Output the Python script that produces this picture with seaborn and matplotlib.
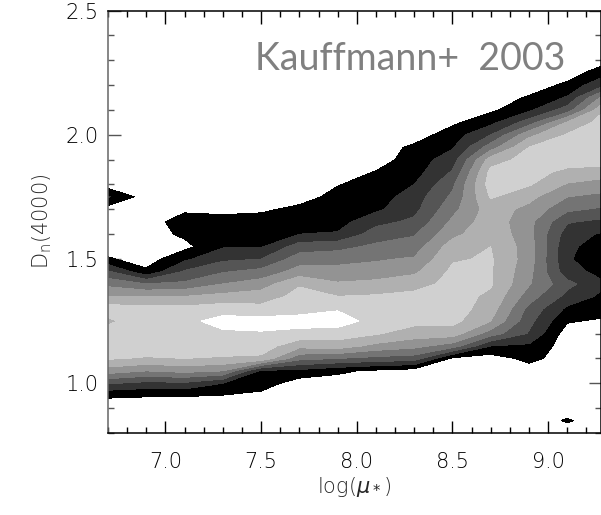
import matplotlib
matplotlib.use("Agg")
import matplotlib.pyplot as plt
from matplotlib.ticker import MultipleLocator
import seaborn as sns

# grid nodes
log_mu = [6.7, 6.9, 7.1, 7.3, 7.5, 7.7, 7.9, 8.1, 8.3, 8.5, 8.7, 8.9, 9.1, 9.3]
dn4000 = [0.80, 0.85, 0.90, 0.95, 1.00, 1.05, 1.10, 1.15, 1.20, 1.25, 1.30,
          1.35, 1.40, 1.45, 1.50, 1.55, 1.60, 1.65, 1.70, 1.75, 1.80, 1.85,
          1.90, 1.95, 2.00, 2.05, 2.10, 2.15, 2.20, 2.25, 2.30, 2.35]

# contour level at each node (1 = outer black contour, 8 = inner white core)
density = [
    [0,    0,    0,    0,    0,   0,   0,    0,    0,   0,   0,   0,   0,   0],
    [0,    0,    0,    0,    0,   0,   0,    0,    0,   0,   0,   0,   0.6, 0],
    [0,    0,    0,    0,    0,   0,   0,    0,    0,   0,   0,   0,   0,   0],
    [0.62, 0.55, 0.55, 0.45, 0.2, 0,   0,    0,    0,   0,   0,   0,   0,   0],
    [2.6,  2.2,  2.3,  1.5,  1.0, 0,   0,    0,    0,   0,   0,   0,   0,   0],
    [5.0,  4.5,  4.8,  4.5,  1.3, 1.2, 0.7,  0.3,  0,   0,   0,   0,   0,   0],
    [6.6,  6.4,  6.5,  6.4,  6.3, 3.8, 3.5,  3.2,  3.0, 0.3, 0,   0.8, 0,   0],
    [7.0,  7.1,  7.0,  7.0,  7.0, 5.8, 6.0,  5.2,  4.8, 4.0, 1.5, 1.3, 0,   0],
    [7.0,  7.2,  7.3,  7.3,  7.4, 7.2, 7.0,  6.6,  6.0, 6.0, 4.0, 2.4, 0,   0],
    [6.3,  7.1,  7.2,  7.9,  7.9, 7.9, 8.0,  7.1,  6.8, 6.8, 5.5, 2.8, 0.6, 0.3],
    [7.0,  6.8,  6.8,  7.0,  6.8, 7.1, 7.4,  7.1,  7.0, 7.0, 6.0, 3.2, 1.3, 1.0],
    [5.5,  5.5,  5.5,  5.8,  6.0, 6.8, 6.5,  6.6,  6.8, 6.9, 6.3, 4.0, 2.2, 1.2],
    [4.2,  3.5,  3.7,  4.5,  5.0, 6.4, 5.6,  5.8,  6.1, 6.8, 6.6, 4.6, 2.8, 1.6],
    [2.6,  0.7,  2.6,  3.4,  3.8, 4.9, 4.9,  4.9,  5.3, 6.7, 6.6, 4.8, 1.9, 1.1],
    [0.62, 0,    1.3,  2.3,  2.5, 4.0, 4.1,  4.4,  4.6, 6.4, 6.6, 5.0, 1.6, 0.9],
    [0,    0,    0.2,  1.4,  1.4, 3.0, 3.2,  3.7,  4.0, 6.0, 6.5, 5.0, 1.7, 1.0],
    [0,    0,    0.7,  1.1,  1.0, 1.5, 1.6,  3.0,  3.4, 5.2, 6.3, 4.8, 2.0, 1.3],
    [0,    0,    1.0,  0.9,  1.0, 1.0, 1.1,  2.2,  2.7, 4.7, 6.1, 4.8, 2.6, 2.2],
    [0,    0,    0.3,  0.2,  0.3, 0.8, 1.0,  1.3,  2.2, 4.2, 6.0, 5.2, 3.7, 3.3],
    [1.6,  0,    0,    0,    0,   0,   0.9,  1.0,  2.0, 3.7, 6.6, 5.8, 4.5, 4.2],
    [0,    0,    0,    0,    0,   0,   0.44, 1.0,  1.5, 3.3, 7.0, 6.6, 5.4, 5.0],
    [0,    0,    0,    0,    0,   0,   0,    0.55, 1.1, 2.6, 6.8, 6.8, 6.3, 6.0],
    [0,    0,    0,    0,    0,   0,   0,    0,    1.0, 2.0, 6.0, 6.9, 6.9, 7.0],
    [0,    0,    0,    0,    0,   0,   0,    0,    0.7, 1.4, 4.0, 6.5, 7.0, 7.3],
    [0,    0,    0,    0,    0,   0,   0,    0,    0,   1.0, 2.5, 5.2, 6.6, 7.2],
    [0,    0,    0,    0,    0,   0,   0,    0,    0,   0.3, 1.2, 3.0, 5.6, 7.0],
    [0,    0,    0,    0,    0,   0,   0,    0,    0,   0,   0.3, 1.3, 3.0, 6.5],
    [0,    0,    0,    0,    0,   0,   0,    0,    0,   0,   0,   0.6, 1.6, 5.0],
    [0,    0,    0,    0,    0,   0,   0,    0,    0,   0,   0,   0,   0.7, 2.5],
    [0,    0,    0,    0,    0,   0,   0,    0,    0,   0,   0,   0,   0,   1.1],
    [0,    0,    0,    0,    0,   0,   0,    0,    0,   0,   0,   0,   0,   0.2],
    [0,    0,    0,    0,    0,   0,   0,    0,    0,   0,   0,   0,   0,   0],
]

contour_levels = [0.5, 1.5, 2.5, 3.5, 4.5, 5.5, 6.5, 7.5, 10]
greys = ['#000000', '#333333', '#555555', '#747474', '#939393',
         '#b0b0b0', '#d0d0d0', '#ffffff']

sns.set_style("ticks")
plt.rcParams['font.family'] = ['DejaVu Sans']
plt.rcParams['mathtext.fontset'] = 'dejavusans'

fig = plt.figure(figsize=(6.01, 5.15), dpi=100)
ax = fig.add_axes([0.1797, 0.1592, 0.8203, 0.8204])

ax.contourf(log_mu, dn4000, density, levels=contour_levels, colors=greys)

ax.set_xlim(6.7, 9.276)
ax.set_ylim(0.8, 2.5)
ax.xaxis.set_major_locator(MultipleLocator(0.5))
ax.xaxis.set_minor_locator(MultipleLocator(0.1))
ax.yaxis.set_major_locator(MultipleLocator(0.5))
ax.yaxis.set_minor_locator(MultipleLocator(0.1))
ax.xaxis.set_major_formatter('{x:.1f}')
ax.yaxis.set_major_formatter('{x:.1f}')

ax.tick_params(which='both', direction='in', top=True, right=True,
               width=1, colors='black', labelsize=15)
ax.tick_params(which='major', length=9)
ax.tick_params(which='minor', length=4.5)
ax.tick_params(axis='x', pad=14)
ax.tick_params(axis='y', pad=7)
ax.tick_params(axis='y', which='both', left=True, color='#555555')
for lab in ax.get_xticklabels() + ax.get_yticklabels():
    lab.set_fontweight('light')

for side in ['top', 'right', 'bottom']:
    ax.spines[side].set_color('black')
    ax.spines[side].set_linewidth(1.1)
ax.spines['left'].set_color('#666666')
ax.spines['left'].set_linewidth(1.1)

ax.set_xlabel(r'log($\mu_*$)', fontsize=15, fontweight='light', labelpad=2)
ax.set_ylabel(r'D$_\mathregular{n}$(4000)', fontsize=15, fontweight='light',
              labelpad=8)

ax.text(0.927, 0.859, 'Kauffmann+  2003', transform=ax.transAxes,
        ha='right', va='baseline', fontsize=27, color='#808080',
        family=['Lato', 'DejaVu Sans'])

fig.savefig('out.png', dpi=100)
